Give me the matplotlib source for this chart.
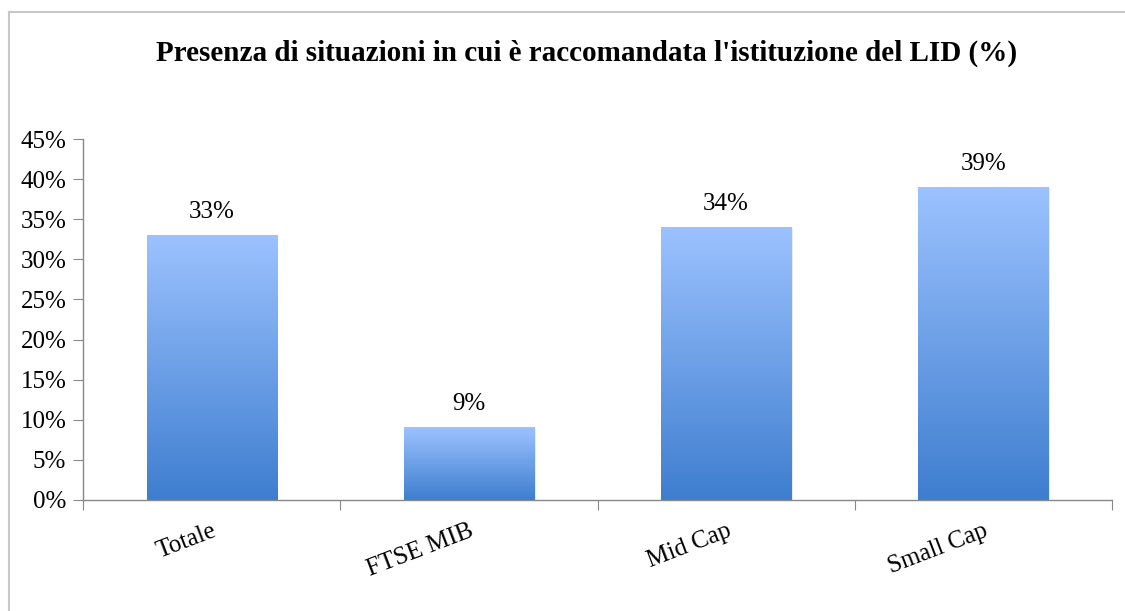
import matplotlib
matplotlib.use("Agg")
import matplotlib.pyplot as plt
import numpy as np
from matplotlib.colors import LinearSegmentedColormap
from matplotlib.lines import Line2D
from matplotlib.patches import Rectangle

categories = ["Totale", "FTSE MIB", "Mid Cap", "Small Cap"]
values = [33, 9, 34, 39]
yticks = [0, 5, 10, 15, 20, 25, 30, 35, 40, 45]
title = "Presenza di situazioni in cui è raccomandata l'istituzione del LID (%)"

plt.rcParams['font.family'] = ['Liberation Serif', 'DejaVu Serif']

fig = plt.figure(figsize=(11.25, 6.11), dpi=100)
fig.patch.set_facecolor('white')

# outer border (left and top visible)
fig.add_artist(Line2D([9/1125, 9/1125], [0, 1-12/611], color='#c8c8c8', lw=1.5))
fig.add_artist(Line2D([9/1125, 1], [1-12/611, 1-12/611], color='#c8c8c8', lw=1.5))

ax = fig.add_axes([83/1125, 1-500/611, (1112-83)/1125, (500-139)/611])
n = len(categories)
x = np.arange(n)
width = 0.506

cmap = LinearSegmentedColormap.from_list('g', ['#3e7ecf', '#9cc2ff'])
grad = np.linspace(0, 1, 256).reshape(-1, 1)
bars = ax.bar(x, values, width=width, color='none', edgecolor='none', zorder=2)
for b, v in zip(bars, values):
    x0 = b.get_x()
    sh = Rectangle((x0 + 0.006, 0.0), b.get_width(), v - 0.15, facecolor='#000000',
                   alpha=0.08, edgecolor='none', zorder=1)
    ax.add_patch(sh)
    ax.imshow(grad, cmap=cmap, origin='lower', aspect='auto',
              extent=[x0, x0 + b.get_width(), 0, v], zorder=2)
    ax.annotate(f"{v}%", (b.get_x() + b.get_width()/2, v), xytext=(0, 9),
                textcoords='offset points', ha='center', va='bottom', fontsize=18)
ax.set_xlim(-0.5, n-0.5)
ax.set_ylim(0, 45)

ax.set_yticks(yticks)
ax.set_yticklabels([f"{t}%" for t in yticks], fontsize=18)
ax.set_xticks(np.arange(-0.5, n, 1.0))
ax.set_xticklabels([])
ax.set_xticks(x, minor=True)
ax.set_xticklabels(categories, minor=True, rotation=21, ha='right', fontsize=18,
                   rotation_mode='anchor')
ax.tick_params(axis='x', which='minor', length=0, pad=14)
ax.tick_params(axis='x', which='major', length=7, color='#888888', direction='out')
ax.tick_params(axis='y', length=7, color='#888888', direction='out', pad=5)
for s in ['top', 'right']:
    ax.spines[s].set_visible(False)
for s in ['left', 'bottom']:
    ax.spines[s].set_color('#888888')
    ax.spines[s].set_linewidth(1.0)

fig.text(587/1125, 1-53/611, title, ha='center', va='center', fontsize=21, fontweight='bold')

fig.savefig('out.png', dpi=100)
